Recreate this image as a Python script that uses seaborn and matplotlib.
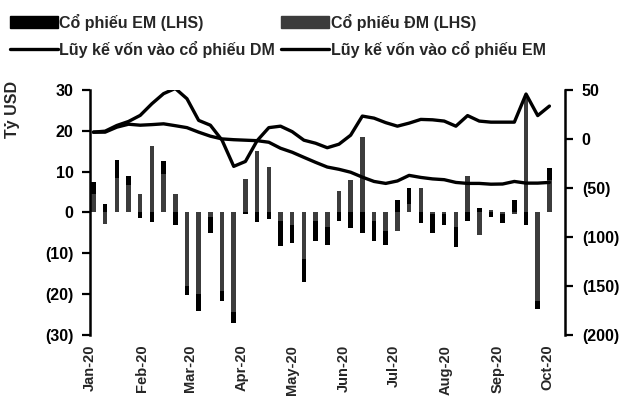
import numpy as np
import pandas as pd
import matplotlib
matplotlib.use('Agg')
import matplotlib.pyplot as plt
import matplotlib.ticker as mticker
from matplotlib.patches import Patch
from matplotlib.lines import Line2D
import seaborn as sns

# weekly flows, bn USD (left axis)
weeks = pd.date_range('2020-01-03', periods=40, freq='7D')
dm_flow = [4.5, -2.8, 8.5, 6.6, 4.6, 16.2, 9.5, 4.6, -18.0, -20.0,
           -1.0, -19.2, -24.5, 8.3, 15.0, 11.1, -2.0, -3.0, -11.4, -2.0,
           -3.5, 5.2, 7.9, 18.5, -2.0, -4.5, -4.5, 2.0, 6.0, -0.5,
           -0.5, -3.5, 9.0, -5.5, 0.5, -0.5, -0.5, 28.0, -21.7, 8.0]
em_flow = [3.0, 2.0, 4.3, 2.3, -1.4, -2.4, 3.0, -3.2, -2.3, -4.1,
           -4.0, -2.5, -2.6, -0.3, -2.3, -1.5, -6.3, -4.5, -5.7, -5.0,
           -4.5, -2.0, -3.8, -5.0, -5.0, -3.5, 3.0, 4.0, -2.5, -4.5,
           -2.5, -5.0, -2.0, 1.0, -1.0, -2.2, 3.0, -3.0, -2.0, 3.0]

# cumulative flows (right axis)
dm_cum = [6.9, 7.9, 13.7, 17.8, 24.0, 35.9, 46.2, 51.5, 41.0, 18.9,
          14.0, -1.3, -28.0, -23.0, -1.8, 11.5, 13.0, 7.4, -1.3, -4.4,
          -9.0, -5.4, 3.8, 23.3, 21.2, 16.6, 13.0, 16.1, 19.9, 19.5,
          18.2, 13.0, 23.8, 18.2, 17.1, 17.1, 17.1, 45.8, 23.8, 33.5]
em_cum = [6.9, 6.9, 12.0, 15.0, 14.0, 14.6, 15.4, 13.5, 11.5, 6.9,
          2.8, 0.0, -0.8, -1.3, -1.8, -3.4, -9.5, -13.6, -18.8, -23.9,
          -28.7, -31.0, -34.0, -39.0, -43.4, -45.4, -42.9, -37.2, -39.3, -40.8,
          -41.6, -44.4, -45.4, -45.4, -46.2, -46.0, -43.4, -45.1, -45.1, -44.4]

month_ticks = pd.date_range('2020-01-01', '2020-10-01', freq='MS')
month_labels = [d.strftime('%b-%y') for d in month_ticks]

df = pd.DataFrame({'week': weeks, 'dm': dm_flow, 'em': em_flow,
                   'dm_cum': dm_cum, 'em_cum': em_cum})

sns.set_style('white')
plt.rcParams['font.family'] = ['Liberation Sans Narrow', 'Liberation Sans', 'DejaVu Sans']
plt.rcParams['font.weight'] = 'bold'
plt.rcParams['axes.labelweight'] = 'bold'

DM_GREY = '#3c3c3c'

fig = plt.figure(figsize=(6.3, 4.05), dpi=100)
ax = fig.add_axes([0.143, 0.173, 0.754, 0.605])
ax2 = ax.twinx()

# EM stacks on top of DM when both have the same sign
em_base = np.where(np.sign(df.em) == np.sign(df.dm), df.dm, 0)
ax.bar(df.week, df.dm, width=2.7, color=DM_GREY, linewidth=0)
ax.bar(df.week, df.em, bottom=em_base, width=2.7, color='black', linewidth=0)

sns.lineplot(data=df, x='week', y='dm_cum', ax=ax2, color='black', lw=2.4)
sns.lineplot(data=df, x='week', y='em_cum', ax=ax2, color='black', lw=2.4)

ax.set_ylim(-30, 30)
ax2.set_ylim(-200, 50)
ax.set_yticks(range(-30, 31, 10))
ax2.set_yticks(range(-200, 51, 50))
fmt = mticker.FuncFormatter(lambda v, p: f'({abs(v):.0f})' if v < 0 else f'{v:.0f}')
ax.yaxis.set_major_formatter(fmt)
ax2.yaxis.set_major_formatter(fmt)

ax.set_xlim(weeks[0] - pd.Timedelta(days=1), weeks[-1] + pd.Timedelta(days=9.4))
ax.set_xticks(month_ticks)
ax.set_xticklabels(month_labels, rotation=90, fontsize=10.5)
ax.tick_params(axis='x', length=0, pad=7)

ax.tick_params(axis='y', left=True, direction='out', length=6, width=1.6,
               labelsize=11.5, pad=6, colors='black')
ax2.tick_params(axis='y', right=True, direction='out', length=6, width=1.6,
                labelsize=11.5, pad=6, colors='black')

for s in ['top', 'bottom', 'right']:
    ax.spines[s].set_visible(False)
for s in ['top', 'bottom', 'left']:
    ax2.spines[s].set_visible(False)
ax.spines['left'].set_linewidth(1.8)
ax.spines['left'].set_color('black')
ax2.spines['right'].set_linewidth(1.8)
ax2.spines['right'].set_color('black')

ax2.set_ylabel('')
ax2.set_xlabel('')
ax.set_xlabel('')
ax.set_ylabel('Tỷ USD', fontsize=11.5, fontweight='bold')
ax.yaxis.set_label_coords(-0.147, 0.92)

handles = [Patch(color='black'), Line2D([], [], color='black', lw=2.4),
           Patch(color=DM_GREY), Line2D([], [], color='black', lw=2.4)]
labels = ['Cổ phiếu EM (LHS)', 'Lũy kế vốn vào cổ phiếu DM',
          'Cổ phiếu ĐM (LHS)', 'Lũy kế vốn vào cổ phiếu EM']
fig.legend(handles, labels, ncol=2, loc='upper left', bbox_to_anchor=(0.0, 0.99),
           frameon=False, fontsize=11.5, handlelength=3.0, handletextpad=0.1,
           columnspacing=0.4, labelspacing=0.65, borderaxespad=0.2)

fig.savefig('out.png', dpi=100)
